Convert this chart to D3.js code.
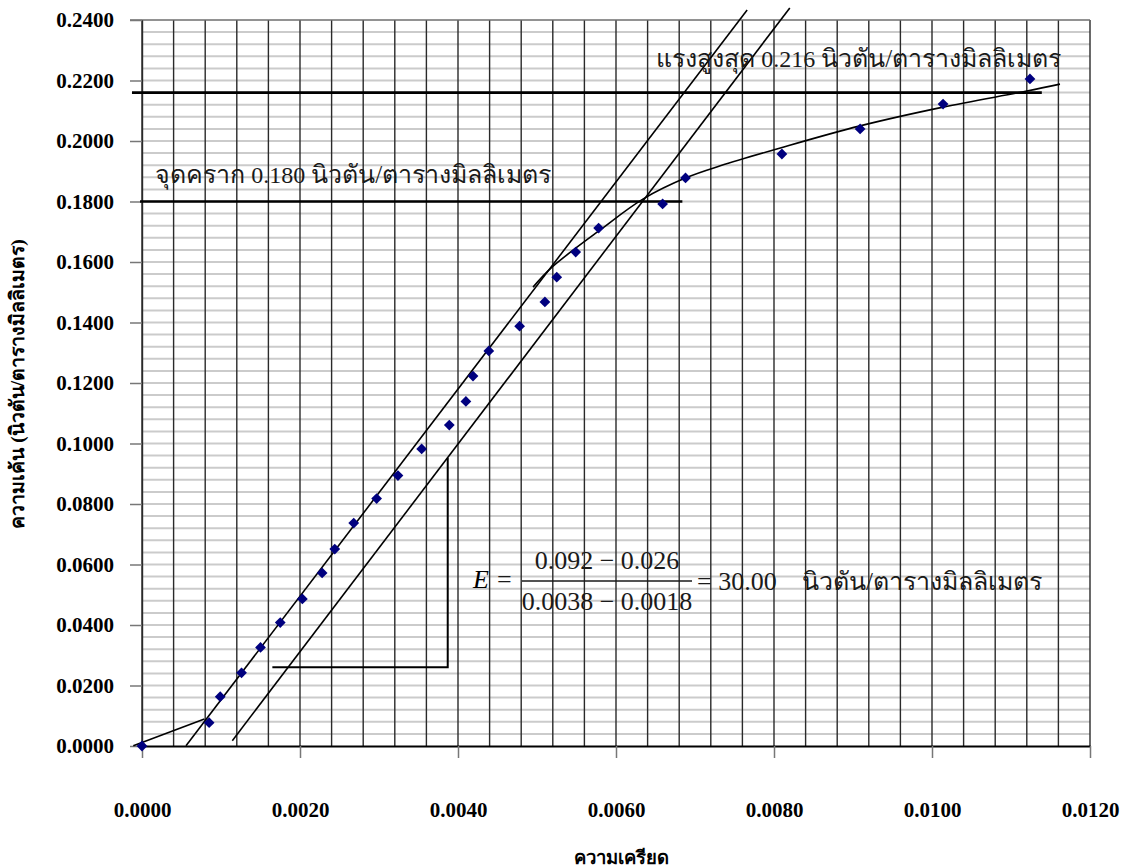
<!DOCTYPE html>
<html>
<head>
<meta charset="utf-8">
<script src="https://cdn.jsdelivr.net/npm/d3@7"></script>
<style>
  html, body { margin: 0; padding: 0; background: #fff; }
  svg { display: block; }
</style>
</head>
<body>
<svg id="chart" width="1122" height="868"></svg>
<script>
// measured points (strain, stress N/mm2)
const strain = [0, 0.00085, 0.00099, 0.00126, 0.00150, 0.00175, 0.00203, 0.00228, 0.00244, 0.00268, 0.00297,
    0.00324, 0.00354, 0.00389, 0.00410, 0.00419, 0.00439, 0.00478, 0.00510, 0.00525, 0.00549, 0.00578,
    0.00659, 0.00688, 0.00810, 0.00909, 0.01014, 0.01124];
const stress = [0, 0.0077, 0.0163, 0.0242, 0.0326, 0.0408, 0.0486, 0.0572, 0.0651, 0.0737, 0.0818,
    0.0894, 0.0982, 0.1061, 0.1139, 0.1223, 0.1306, 0.1388, 0.1468, 0.1550, 0.1633, 0.1712,
    0.1792, 0.1878, 0.1957, 0.2040, 0.2122, 0.2205];

// fitted curve in the plastic part
const curveStrain = [0.00495, 0.00519, 0.00580, 0.00634, 0.00690, 0.00732, 0.00808, 0.00909, 0.01014, 0.01120, 0.01162];
const curveStress = [0.1517, 0.1583, 0.1706, 0.1808, 0.1880, 0.1918, 0.1977, 0.2050, 0.2112, 0.2165, 0.2188];

// construction lines [strain, stress]
const initialLine = [[-0.00011, 0.0001], [0.00079, 0.0089]];
const tangentLeft = [[0.000557, 0.0001], [0.00766, 0.2433]];
const tangentRight = [[0.001143, 0.00175], [0.0082, 0.2440]];
const slopeTriangle = [[0.00165, 0.026], [0.00387, 0.026], [0.00387, 0.0952]];
const yieldLine = [[-0.000025, 0.180], [0.00684, 0.180]];
const maxLine = [[-0.000127, 0.216], [0.01139, 0.216]];

const xTicks = [0, 0.002, 0.004, 0.006, 0.008, 0.010, 0.012];
const yTicks = [0, 0.02, 0.04, 0.06, 0.08, 0.10, 0.12, 0.14, 0.16, 0.18, 0.20, 0.22, 0.24];

const unitText = "นิวตัน/ตารางมิลลิเมตร";
const xTitle = "ความเครียด";
const yTitle = "ความเค้น (นิวตัน/ตารางมิลลิเมตร)";

const svg = d3.select("#chart");
const width = 1122, height = 868;
const margin = { top: 20, right: 32, bottom: 122, left: 142 };
const serif = "'Liberation Serif', 'Times New Roman', serif";

const x = d3.scaleLinear().domain([0, 0.012]).range([margin.left, width - margin.right]);
const y = d3.scaleLinear().domain([0, 0.24]).range([height - margin.bottom, margin.top]);

//------------------GRID------------------
// light horizontal lines every 0.004
svg.append("g")
    .selectAll("line")
    .data(d3.range(1, 60).map(i => i * 0.004))
    .join("line")
    .attr("x1", x(0)).attr("x2", x(0.012))
    .attr("y1", d => y(d)).attr("y2", d => y(d))
    .attr("stroke", "#cbcbcb")
    .attr("stroke-width", 2);

// dark vertical lines every 0.0004
svg.append("g")
    .selectAll("line")
    .data(d3.range(0, 31).map(i => i * 0.0004))
    .join("line")
    .attr("x1", d => x(d)).attr("x2", d => x(d))
    .attr("y1", y(0)).attr("y2", y(0.24))
    .attr("stroke", "#2a2a2a")
    .attr("stroke-width", 1.4);

// top border
svg.append("line")
    .attr("x1", x(0) - 12).attr("x2", x(0.012))
    .attr("y1", y(0.24)).attr("y2", y(0.24))
    .attr("stroke", "#6e6e6e")
    .attr("stroke-width", 1.6);

//------------------AXIS------------------
const yAxis = svg.append("g")
    .attr("transform", `translate(${x(0)},0)`)
    .call(d3.axisLeft(y)
        .tickValues(yTicks)
        .tickFormat(d3.format(".4f"))
        .tickSize(12)
        .tickPadding(16)
        .tickSizeOuter(0));
yAxis.select(".domain").attr("stroke", "#2a2a2a").attr("stroke-width", 1.4);
yAxis.selectAll(".tick line").attr("stroke", "#777").attr("stroke-width", 1.5);
yAxis.selectAll(".tick text")
    .attr("font-family", serif)
    .attr("font-weight", "bold")
    .attr("font-size", "21px")
    .attr("fill", "#000");

const xAxis = svg.append("g")
    .attr("transform", `translate(0,${y(0)})`)
    .call(d3.axisBottom(x)
        .tickValues(xTicks)
        .tickFormat(d3.format(".4f"))
        .tickSize(12)
        .tickPadding(44)
        .tickSizeOuter(0));
xAxis.select(".domain").attr("stroke", "#000").attr("stroke-width", 1.8);
xAxis.selectAll(".tick line").attr("stroke", "#777").attr("stroke-width", 1.5);
xAxis.selectAll(".tick text")
    .attr("font-family", serif)
    .attr("font-weight", "bold")
    .attr("font-size", "21px")
    .attr("fill", "#000");

svg.append("text")
    .attr("x", 621)
    .attr("y", 864)
    .attr("text-anchor", "middle")
    .attr("font-family", serif)
    .attr("font-weight", "bold")
    .attr("font-size", "18.5px")
    .text(xTitle);

svg.append("text")
    .attr("transform", "translate(24,384) rotate(-90)")
    .attr("text-anchor", "middle")
    .attr("font-family", serif)
    .attr("font-weight", "bold")
    .attr("font-size", "19.5px")
    .text(yTitle);

//------------------LINES------------------
const line = d3.line().x(d => x(d[0])).y(d => y(d[1]));

const drawLine = (pts, w) => svg.append("path")
    .attr("d", line(pts))
    .attr("fill", "none")
    .attr("stroke", "#000")
    .attr("stroke-width", w);

drawLine(initialLine, 1.6);
drawLine(tangentLeft, 1.6);
drawLine(tangentRight, 1.6);
drawLine(slopeTriangle, 2);
drawLine(yieldLine, 2.6);
drawLine(maxLine, 2.6);

svg.append("path")
    .attr("d", d3.line().curve(d3.curveCatmullRom)
        .x(d => x(d[0])).y(d => y(d[1]))(curveStrain.map((s, i) => [s, curveStress[i]])))
    .attr("fill", "none")
    .attr("stroke", "#000")
    .attr("stroke-width", 1.6);

//------------------POINTS------------------
svg.append("g")
    .selectAll("path")
    .data(strain.map((s, i) => [s, stress[i]]))
    .join("path")
    .attr("d", d3.symbol(d3.symbolSquare, 58))
    .attr("transform", d => `translate(${x(d[0])},${y(d[1])}) rotate(45)`)
    .attr("fill", "#00007f");

//------------------ANNOTATIONS------------------
// thai words a bit larger than the digits, like the original
const note = (tx, ty, parts) => {
    const t = svg.append("text")
        .attr("x", tx).attr("y", ty)
        .attr("font-family", serif)
        .attr("fill", "#1a1a1a");
    parts.forEach(p => t.append("tspan").attr("font-size", p[1]).text(p[0]));
    return t;
};

note(155, 183, [["จุดคราก ", "25px"], ["0.180 ", "24px"], [unitText, "25px"]]);
note(656, 67, [["แรงสูงสุด ", "25px"], ["0.216 ", "24px"], [unitText, "25px"]]);

// E = (0.092 - 0.026) / (0.0038 - 0.0018) = 30.00
svg.append("text")
    .attr("x", 473).attr("y", 588)
    .attr("font-family", serif).attr("font-size", "26px").attr("font-style", "italic")
    .text("E");
note(497, 588, [["=", "26px"]]);
svg.append("line")
    .attr("x1", 522).attr("x2", 692)
    .attr("y1", 581).attr("y2", 581)
    .attr("stroke", "#1a1a1a").attr("stroke-width", 1.4);
note(607, 569, [["0.092 − 0.026", "26px"]]).attr("text-anchor", "middle");
note(607, 610, [["0.0038 − 0.0018", "26px"]]).attr("text-anchor", "middle");
note(697, 590, [["= 30.00", "26px"]]);
note(802, 590, [[unitText, "25px"]]);
</script>
</body>
</html>
